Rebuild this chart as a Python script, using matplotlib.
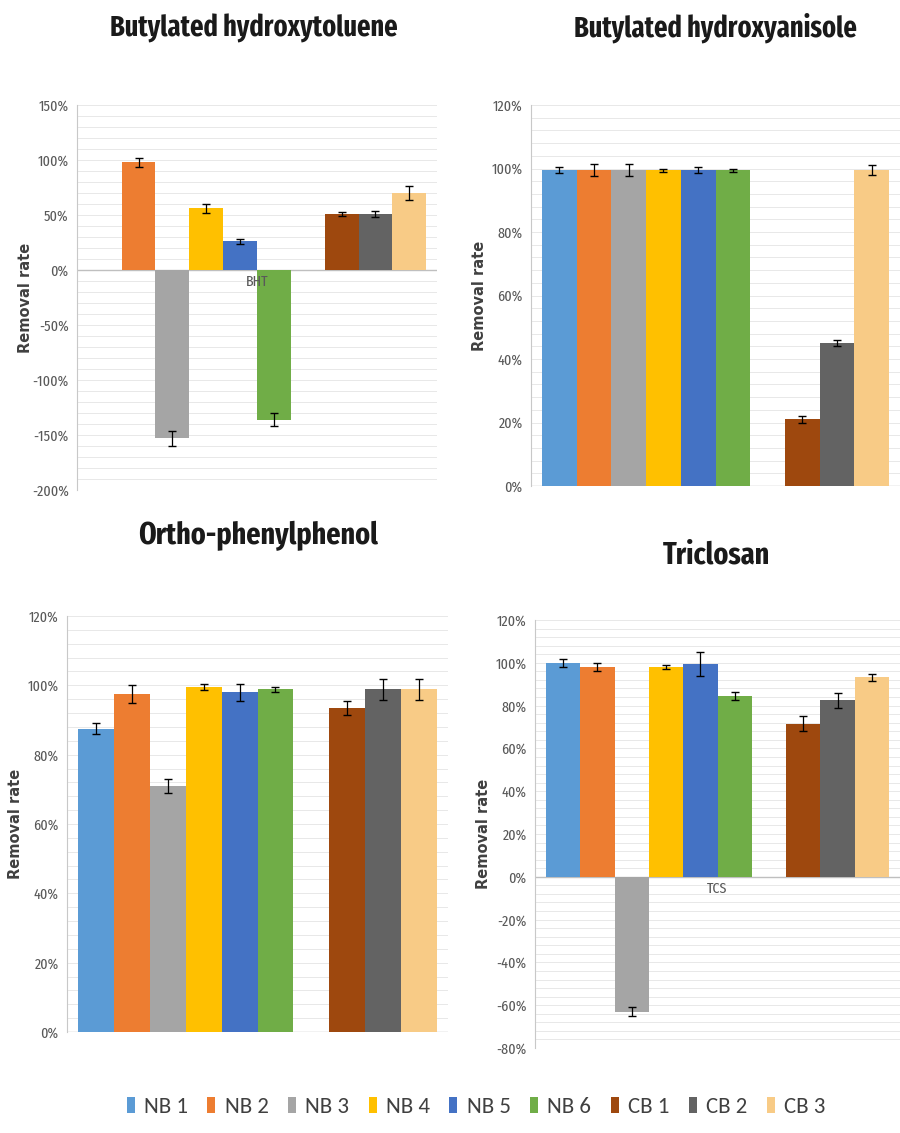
import matplotlib
matplotlib.use("Agg")
import matplotlib.pyplot as plt
from matplotlib.patches import Patch
from matplotlib.ticker import MultipleLocator, PercentFormatter

plt.rcParams["font.family"] = ["Carlito", "DejaVu Sans"]
plt.rcParams["axes.unicode_minus"] = False

TITLE_FONT = ["Fira Sans Extra Condensed", "Carlito", "DejaVu Sans"]
TICK_FONT = ["Fira Sans Extra Condensed", "Carlito", "DejaVu Sans"]

series = ["NB 1", "NB 2", "NB 3", "NB 4", "NB 5", "NB 6", "CB 1", "CB 2", "CB 3"]
colors = ["#5B9BD5", "#ED7D31", "#A5A5A5", "#FFC000", "#4472C4",
          "#70AD47", "#9E480E", "#636363", "#F8CB86"]
slots = [0, 1, 2, 3, 4, 5, 7, 8, 9]

bht_vals = [0.0, 98, -153, 56, 26, -136, 51, 51, 70]
bht_err = [0.0, 4, 7, 4, 2, 6, 2, 3, 6]
bha_vals = [99.5, 99.5, 99.5, 99.5, 99.5, 99.5, 21, 45, 99.5]
bha_err = [1, 2, 2, 0.5, 1, 0.5, 1, 1, 1.5]
opp_vals = [87.5, 97.5, 71, 99.5, 98, 98.8, 93.5, 98.8, 98.8]
opp_err = [1.5, 2.5, 2, 0.8, 2.5, 0.7, 2, 3, 3]
tcs_vals = [100, 98, -63, 98, 99.5, 84.5, 71.5, 82.5, 93.2]
tcs_err = [2, 2, 2, 1, 5.5, 2, 3.5, 3.5, 1.5]

W, H = 900, 1133
fig = plt.figure(figsize=(W / 100, H / 100), dpi=100)


def box(x0, x1, ytop, ybot):
    return [x0 / W, 1 - ybot / H, (x1 - x0) / W, (ybot - ytop) / H]


panels = [
    dict(title="Butylated hydroxytoluene", vals=bht_vals, err=bht_err,
         px=(77, 437, 105, 490), ylim=(-200, 150), major=50, minor=10,
         cat="BHT", title_xy=(254, 28), tsize=20.6),
    dict(title="Butylated hydroxyanisole", vals=bha_vals, err=bha_err,
         px=(531, 900, 105, 486), ylim=(0, 120), major=20, minor=4,
         cat=None, title_xy=(715, 28), tsize=20.6),
    dict(title="Ortho-phenylphenol", vals=opp_vals, err=opp_err,
         px=(67, 448, 616, 1032), ylim=(0, 120), major=20, minor=4,
         cat=None, title_xy=(258, 536), tsize=22),
    dict(title="Triclosan", vals=tcs_vals, err=tcs_err,
         px=(535, 900, 620, 1048), ylim=(-80, 120), major=20, minor=4,
         cat="TCS", title_xy=(716, 555), tsize=22),
]

for p in panels:
    x0, x1, yt, yb = p["px"]
    ax = fig.add_axes(box(x0, x1, yt, yb))
    for s, v, e, c in zip(slots, p["vals"], p["err"], colors):
        if v == 0:
            continue
        ax.bar(s, v, width=1.0, color=c, zorder=3)
        ax.errorbar(s, v, yerr=e, fmt="none", ecolor="black", elinewidth=0.9,
                    capsize=3, capthick=1.0, zorder=4)
    ax.set_xlim(-0.82, 9.82)
    ax.set_ylim(*p["ylim"])
    ax.yaxis.set_major_locator(MultipleLocator(p["major"]))
    ax.yaxis.set_minor_locator(MultipleLocator(p["minor"]))
    ax.yaxis.set_major_formatter(PercentFormatter(decimals=0))
    ax.grid(axis="y", which="both", color="#E4E4E4", linewidth=0.6, zorder=0)
    ax.set_xticks([])
    for side in ("top", "right", "bottom"):
        ax.spines[side].set_visible(False)
    ax.spines["left"].set_color("#C8C8C8")
    ax.axhline(0, color="#BFBFBF", linewidth=1.0, zorder=2)
    ax.tick_params(axis="y", which="both", length=0, labelsize=11,
                   labelcolor="#595959", pad=6)
    for lab in ax.get_yticklabels():
        lab.set_family(TICK_FONT)
    ax.set_ylabel("Removal rate", fontsize=10.5, fontweight="bold",
                  color="#404040", family="DejaVu Sans")
    ax.yaxis.set_label_coords(-44 / (x1 - x0), 0.5)
    if p["cat"]:
        ax.text(0.5, -0.012 * (p["ylim"][1] - p["ylim"][0]), p["cat"],
                transform=ax.get_yaxis_transform(), ha="center", va="top",
                fontsize=11, color="#595959", family=TICK_FONT)
    tx, ty = p["title_xy"]
    fig.text(tx / W, 1 - ty / H, p["title"], ha="center", va="center",
             fontsize=p["tsize"], fontweight="bold", color="#1A1A1A",
             family=TITLE_FONT)

handles = [Patch(facecolor=c, label=s) for s, c in zip(series, colors)]
fig.legend(handles=handles, loc="center", bbox_to_anchor=(476 / W, 1 - 1107 / H),
           ncol=9, frameon=False, prop=dict(family=["Carlito"], size=16.5),
           handlelength=0.35, handleheight=0.65, handletextpad=0.4,
           columnspacing=0.85, labelcolor="#404040")

fig.savefig("out.png", dpi=100, facecolor="white")
